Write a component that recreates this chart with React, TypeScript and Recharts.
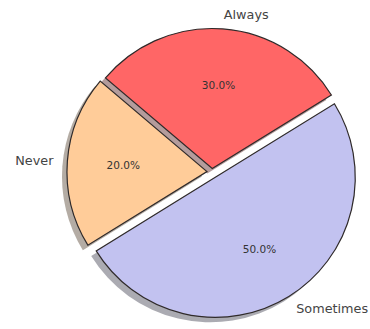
import React from "react";
import { PieChart, Pie, Cell } from "recharts";

// answers to the survey question
const answers = ["Always", "Never", "Sometimes"];
const shares = [30, 20, 50];
const sliceColors = ["#ff6666", "#ffcc99", "#c2c2f0"];
// how far each slice is pulled out (fraction of the radius)
const explode = [0.025, 0.036, 0.045];

const rows = answers.map((name, i) => ({ name, value: shares[i] }));

const W = 370;
const H = 329;
const CX = 212;
const CY = 172;
const R = 140;
const START = 31.7;
const SHADOW_DX = -5;
const SHADOW_DY = 5;
const RAD = Math.PI / 180;
const FONT = "DejaVu Sans, Verdana, sans-serif";

const total = shares.reduce((a, b) => a + b, 0);

function midAngle(i: number) {
  const before = shares.slice(0, i).reduce((a, b) => a + b, 0);
  return START + ((before + shares[i] / 2) / total) * 360;
}

function offset(i: number) {
  const a = midAngle(i) * RAD;
  const d = explode[i] * R;
  return { dx: d * Math.cos(a), dy: -d * Math.sin(a) };
}

// matplotlib-like shadow: a darkened copy of the face colour, half see-through
function shadowColor(hex: string) {
  const n = parseInt(hex.slice(1), 16);
  const r = Math.round(((n >> 16) & 255) * 0.35);
  const g = Math.round(((n >> 8) & 255) * 0.35);
  const b = Math.round((n & 255) * 0.35);
  return `rgba(${r},${g},${b},0.45)`;
}

function makeLabel(target: number) {
  return (props: any) => {
    const { cx, cy, midAngle: mid, outerRadius, index, percent } = props;
    if (index !== target) return null;
    const cos = Math.cos(-mid * RAD);
    const sin = Math.sin(-mid * RAD);
    const lx = cx + outerRadius * 1.1 * cos;
    const ly = cy + outerRadius * 1.1 * sin;
    const px = cx + outerRadius * 0.6 * cos;
    const py = cy + outerRadius * 0.6 * sin;
    return (
      <g>
        <text
          x={lx}
          y={ly}
          textAnchor={cos >= 0 ? "start" : "end"}
          dominantBaseline="central"
          fontSize={12.8}
          fontFamily={FONT}
          fill="#444"
        >
          {answers[index]}
        </text>
        <text
          x={px}
          y={py}
          textAnchor="middle"
          dominantBaseline="central"
          fontSize={10.5}
          fontFamily={FONT}
          fill="#333"
        >
          {(percent * 100).toFixed(1)}%
        </text>
      </g>
    );
  };
}

function slice(i: number, kind: "shadow" | "wedge") {
  const { dx, dy } = offset(i);
  const sx = kind === "shadow" ? SHADOW_DX : 0;
  const sy = kind === "shadow" ? SHADOW_DY : 0;
  return (
    <Pie
      key={kind + i}
      data={rows}
      dataKey="value"
      nameKey="name"
      cx={CX + dx + sx}
      cy={CY + dy + sy}
      outerRadius={R}
      startAngle={START}
      endAngle={START + 360}
      stroke="none"
      isAnimationActive={false}
      labelLine={false}
      label={kind === "wedge" ? makeLabel(i) : false}
    >
      {rows.map((_, j) => (
        <Cell
          key={j}
          fill={j !== i ? "none" : kind === "shadow" ? shadowColor(sliceColors[i]) : sliceColors[i]}
          stroke={j === i && kind === "wedge" ? "#2f2a2a" : "none"}
          strokeWidth={1.2}
        />
      ))}
    </Pie>
  );
}

export default function App() {
  return (
    <div style={{ position: "fixed", left: 0, top: 0, width: W, height: H, background: "#fff" }}>
      <PieChart width={W} height={H} margin={{ top: 0, right: 0, bottom: 0, left: 0 }}>
        {answers.map((_, i) => slice(i, "shadow"))}
        {answers.map((_, i) => slice(i, "wedge"))}
      </PieChart>
    </div>
  );
}
